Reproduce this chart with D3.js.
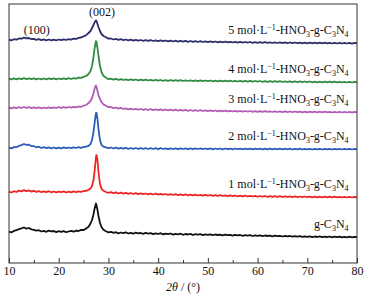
<!doctype html>
<html lang="en">
<head>
  <meta charset="utf-8">
  <title>XRD g-C3N4</title>
  <script src="https://cdn.jsdelivr.net/npm/d3@7"></script>
  <style>
    body { margin: 0; background: #fff; }
    svg text { font-family: "Liberation Serif", "Times New Roman", serif; fill: #111; }
  </style>
</head>
<body>
<svg id="chart"></svg>
<script>
// 2theta sampling (deg), denser around the (002) peak
var twoTheta = [
  10,10.5,11,11.5,12,12.5,13,13.5,14,14.5,15,15.5,16,16.5,17,17.5,
  18,18.5,19,19.5,20,20.5,21,21.5,22,22.5,23,23.5,24,24.5,25,25.5,
  26,26.4,26.7,27.0,27.2,27.4,27.5,27.6,27.8,28.0,28.3,28.6,29,
  29.5,30,30.5,31,31.5,32,32.5,33,33.5,34,34.5,35,35.5,36,36.5,37,37.5,38,38.5,
  39,39.5,40,40.5,41,41.5,42,42.5,43,43.5,44,44.5,45,45.5,46,46.5,47,47.5,48,48.5,
  49,49.5,50,50.5,51,51.5,52,52.5,53,53.5,54,54.5,55,55.5,56,56.5,57,57.5,58,58.5,
  59,59.5,60,60.5,61,61.5,62,62.5,63,63.5,64,64.5,65,65.5,66,66.5,67,67.5,68,68.5,
  69,69.5,70,70.5,71,71.5,72,72.5,73,73.5,74,74.5,75,75.5,76,76.5,77,77.5,78,78.5,
  79,79.5,80
];

// intensities (a.u.) above each curve's stacking offset
var pure = [
  5.4,4.6,6.2,6.8,7.9,8.6,9.5,8.4,9.0,7.6,7.2,6.3,6.8,5.5,6.1,5.2,
  6.4,5.6,6.0,4.9,5.8,5.1,5.9,4.8,5.5,6.2,5.3,6.4,6.0,7.1,7.0,8.4,
  10.2,13.5,17.0,22.8,28.0,32.0,33.5,31.8,27.0,21.0,14.2,10.0,7.2,
  5.8,4.6,5.2,4.1,4.8,3.6,4.5,3.9,4.7,3.5,4.2,3.3,4.4,3.6,4.0,3.1,4.1,3.4,3.9,
  2.9,3.7,3.0,3.8,2.6,3.4,2.8,3.5,2.4,3.2,2.7,3.3,2.2,3.0,2.5,3.1,2.0,2.8,2.3,2.9,
  1.9,2.6,2.1,2.7,1.8,2.5,2.0,2.4,1.6,2.3,1.8,2.2,1.4,2.1,1.6,2.0,1.2,1.9,1.4,1.8,
  1.0,1.7,1.2,1.6,0.9,1.5,1.0,1.4,0.7,1.3,0.8,1.2,0.5,1.1,0.6,1.0,0.3,0.9,0.4,0.8,
  0.1,0.7,0.2,0.6,-0.1,0.5,0.0,0.6,-0.2,0.4,-0.1,0.5,-0.3,0.3,-0.2,0.4,-0.4,0.2,-0.3,0.3,
  -0.4,0.2,-0.2
];
var hno3_1 = [
  5.3,4.5,5.8,5.0,6.4,5.6,6.9,5.9,6.6,5.4,6.2,5.1,5.9,4.8,5.7,4.9,
  5.8,4.7,5.5,4.6,5.4,4.8,5.6,4.5,5.3,4.7,5.6,4.9,5.7,5.1,6.0,6.2,
  7.2,8.4,11.0,17.0,25.0,35.0,40.0,42.0,37.0,25.0,13.0,8.2,6.3,
  5.0,4.2,4.9,3.8,4.6,3.5,4.3,3.4,4.2,3.2,4.0,3.0,3.8,2.9,3.7,2.8,3.5,2.7,3.4,
  2.5,3.3,2.4,3.2,2.3,3.0,2.1,2.9,2.0,2.8,1.9,2.7,1.8,2.6,1.7,2.4,1.6,2.3,1.5,2.2,
  1.4,2.1,1.3,2.0,1.2,1.9,1.1,1.8,1.0,1.7,0.9,1.6,0.8,1.5,0.7,1.4,0.6,1.3,0.5,1.2,
  0.5,1.1,0.4,1.0,0.3,1.0,0.2,0.9,0.2,0.8,0.1,0.8,0.0,0.7,0.0,0.6,-0.1,0.6,-0.1,0.5,
  -0.2,0.5,-0.2,0.4,-0.3,0.4,-0.3,0.4,-0.3,0.3,-0.4,0.3,-0.4,0.3,-0.4,0.2,-0.5,0.2,-0.5,0.2,
  -0.5,0.1,-0.3
];
var hno3_2 = [
  1.4,0.6,1.9,1.8,3.2,3.9,5.0,4.1,4.3,3.0,2.8,1.7,2.3,1.0,1.8,0.8,
  1.7,0.7,1.5,0.6,1.4,0.7,1.6,0.8,1.5,0.9,1.7,1.0,1.8,1.2,2.0,2.3,
  3.2,5.0,9.0,17.0,25.0,33.0,36.0,36.0,30.0,20.0,9.0,4.2,2.3,
  1.6,0.8,1.5,0.5,1.3,0.4,1.2,0.3,1.1,0.2,1.0,0.2,1.0,0.1,0.9,0.1,0.9,0.0,0.8,
  0.0,0.8,-0.1,0.8,0.0,0.7,-0.1,0.7,0.0,0.7,-0.2,0.6,0.0,0.7,-0.1,0.6,-0.2,0.6,0.0,0.6,
  -0.2,0.5,-0.1,0.6,-0.3,0.5,-0.1,0.5,-0.3,0.5,-0.2,0.4,-0.3,0.5,-0.2,0.4,-0.3,0.4,-0.2,0.4,
  -0.4,0.4,-0.2,0.3,-0.4,0.4,-0.3,0.3,-0.4,0.3,-0.3,0.3,-0.4,0.3,-0.3,0.3,-0.5,0.2,-0.3,0.3,
  -0.5,0.2,-0.4,0.2,-0.5,0.2,-0.4,0.2,-0.5,0.2,-0.4,0.1,-0.5,0.2,-0.4,0.1,-0.5,0.1,-0.4,0.1,
  -0.5,0.1,-0.3
];
var hno3_3 = [
  4.4,3.6,4.6,3.8,4.9,4.0,5.0,4.1,4.8,3.9,4.7,3.8,4.6,3.7,4.5,3.8,
  4.6,3.9,4.7,4.0,4.8,4.1,4.9,4.2,5.0,4.3,5.2,4.6,5.5,5.2,6.3,7.0,
  9.0,11.0,14.0,19.0,23.0,26.0,26.5,25.0,21.0,17.0,13.0,10.0,7.6,
  6.2,4.8,5.0,3.9,4.5,3.4,4.1,3.0,3.7,2.7,3.4,2.5,3.2,2.3,3.0,2.1,2.9,2.0,2.8,
  1.9,2.7,1.8,2.6,1.7,2.5,1.6,2.4,1.5,2.3,1.4,2.2,1.3,2.1,1.2,2.0,1.1,1.9,1.0,1.8,
  1.0,1.7,0.9,1.6,0.8,1.5,0.7,1.4,0.6,1.3,0.6,1.2,0.5,1.2,0.4,1.1,0.4,1.0,0.3,1.0,
  0.2,0.9,0.2,0.8,0.1,0.8,0.1,0.7,0.0,0.7,0.0,0.6,-0.1,0.6,-0.1,0.5,-0.2,0.5,-0.2,0.4,
  -0.3,0.4,-0.3,0.4,-0.3,0.3,-0.4,0.3,-0.4,0.3,-0.4,0.2,-0.5,0.2,-0.5,0.2,-0.5,0.1,-0.5,0.1,
  -0.6,0.1,-0.3
];
var hno3_4 = [
  3.4,2.6,3.6,2.7,3.7,2.8,3.8,2.9,3.7,2.8,3.6,2.7,3.5,2.6,3.5,2.7,
  3.6,2.8,3.6,2.7,3.5,2.8,3.7,2.9,3.8,3.0,3.9,3.4,4.3,4.2,5.2,6.0,
  8.0,11.0,16.0,25.0,33.0,39.0,41.0,40.0,34.0,26.0,16.0,10.0,6.2,
  4.3,2.9,3.4,2.4,3.1,2.2,2.9,2.0,2.7,1.9,2.6,1.8,2.5,1.7,2.4,1.6,2.3,1.5,2.2,
  1.4,2.1,1.3,2.0,1.2,1.9,1.2,1.9,1.1,1.8,1.1,1.8,1.0,1.7,1.0,1.7,0.9,1.6,0.9,1.6,
  0.8,1.5,0.8,1.5,0.7,1.4,0.7,1.4,0.6,1.3,0.6,1.3,0.5,1.2,0.5,1.2,0.4,1.1,0.4,1.1,
  0.3,1.0,0.3,1.0,0.2,0.9,0.2,0.9,0.1,0.8,0.1,0.8,0.0,0.7,0.0,0.7,-0.1,0.6,-0.1,0.6,
  -0.2,0.5,-0.2,0.5,-0.3,0.4,-0.3,0.4,-0.3,0.3,-0.4,0.3,-0.4,0.3,-0.4,0.2,-0.5,0.2,-0.5,0.2,
  -0.5,0.1,-0.3
];
var hno3_5 = [
  3.3,2.6,3.8,3.4,4.5,4.3,5.4,4.6,5.0,3.9,4.2,3.2,3.8,2.8,3.6,2.7,
  3.5,2.6,3.4,2.7,3.5,2.8,3.7,3.0,3.9,3.4,4.4,4.2,5.2,5.5,6.6,7.8,
  10.0,12.0,15.0,18.0,20.5,22.0,22.5,22.0,19.0,16.0,12.0,9.0,7.0,
  5.8,4.4,4.5,3.5,4.1,3.2,3.8,2.9,3.5,2.6,3.3,2.4,3.1,2.3,3.0,2.2,2.9,2.1,2.8,
  2.0,2.7,1.9,2.6,1.8,2.5,1.6,2.4,1.5,2.3,1.4,2.2,1.3,2.1,1.2,2.0,1.1,1.9,1.0,1.8,
  1.0,1.7,0.9,1.6,0.8,1.5,0.7,1.4,0.6,1.3,0.6,1.2,0.5,1.2,0.4,1.1,0.4,1.0,0.3,1.0,
  0.2,0.9,0.2,0.8,0.1,0.8,0.1,0.7,0.0,0.7,0.0,0.6,-0.1,0.6,-0.1,0.5,-0.2,0.5,-0.2,0.4,
  -0.3,0.4,-0.3,0.4,-0.3,0.3,-0.4,0.3,-0.4,0.3,-0.4,0.2,-0.5,0.2,-0.5,0.2,-0.5,0.1,-0.5,0.1,
  -0.6,0.1,-0.3
];

// bottom to top
var seriesValues = [pure, hno3_1, hno3_2, hno3_3, hno3_4, hno3_5];
var seriesOffsets = [26, 66, 114, 151, 181, 220];
var seriesColors = ["#111111", "#ee2424", "#2c5dbb", "#b25cb6", "#2f8c40", "#2f2e6c"];
var seriesConc = ["", "1", "2", "3", "4", "5"];

var xTicks = [10, 20, 30, 40, 50, 60, 70, 80];
var xMinorTicks = [15, 25, 35, 45, 55, 65, 75];
var peakLabels = [{ text: "(100)", x: 15.6, y: 229 }, { text: "(002)", x: 28.7, y: 247 }];

var W = 370, H = 300;
var margin = { top: 4, right: 13, bottom: 37, left: 9 };

var svg = d3.select("#chart").attr("width", W).attr("height", H);

var x = d3.scaleLinear().domain([10, 80]).range([margin.left, W - margin.right]);
var y = d3.scaleLinear().domain([0, H - margin.top - margin.bottom]).range([H - margin.bottom, margin.top]);

var line = d3.line()
  .x(function(d) { return x(d[0]); })
  .y(function(d) { return y(d[1]); });

seriesValues.forEach(function(vals, i) {
  if (vals.length !== twoTheta.length) console.warn("length mismatch", i, vals.length);
  var pts = twoTheta.map(function(t, j) { return [t, vals[j] + seriesOffsets[i]]; });
  svg.append("path")
    .datum(pts)
    .attr("d", line)
    .attr("fill", "none")
    .attr("stroke", seriesColors[i])
    .attr("stroke-width", 1.8)
    .attr("stroke-linejoin", "round");
});

// frame
svg.append("rect")
  .attr("x", x(10)).attr("y", margin.top)
  .attr("width", x(80) - x(10)).attr("height", H - margin.top - margin.bottom)
  .attr("fill", "none").attr("stroke", "#333").attr("stroke-width", 1);

// x axis, ticks pointing inwards
var gx = svg.append("g").attr("transform", "translate(0," + (H - margin.bottom) + ")");
gx.call(d3.axisBottom(x).tickValues(xTicks).tickSize(-5).tickPadding(3).tickFormat(d3.format("d")));
gx.select(".domain").remove();
gx.selectAll(".tick line").attr("stroke", "#333");
gx.selectAll(".tick text").attr("font-size", 12).attr("font-family", "Liberation Serif").attr("fill", "#111");

var gm = svg.append("g").attr("transform", "translate(0," + (H - margin.bottom) + ")");
gm.call(d3.axisBottom(x).tickValues(xMinorTicks).tickSize(-3).tickFormat(""));
gm.select(".domain").remove();
gm.selectAll(".tick line").attr("stroke", "#333");

// axis title
var title = svg.append("text")
  .attr("x", (x(10) + x(80)) / 2)
  .attr("y", H - 9)
  .attr("text-anchor", "middle")
  .attr("font-size", 12);
title.append("tspan").attr("font-style", "italic").text("2θ");
title.append("tspan").text(" / (°)");

// curve labels
seriesOffsets.forEach(function(off, i) {
  var t = svg.append("text")
    .attr("x", x(78.3))
    .attr("y", y(off + 9))
    .attr("text-anchor", "end")
    .attr("font-size", 12);
  if (seriesConc[i]) {
    t.append("tspan").text(seriesConc[i] + " mol·L");
    t.append("tspan").attr("font-size", 8).attr("dy", -4).text("−1");
    t.append("tspan").attr("dy", 4).text("-HNO");
    t.append("tspan").attr("font-size", 8).attr("dy", 3).text("3");
    t.append("tspan").attr("dy", -3).text("-g-C");
  } else {
    t.append("tspan").text("g-C");
  }
  t.append("tspan").attr("font-size", 8).attr("dy", 3).text("3");
  t.append("tspan").attr("dy", -3).text("N");
  t.append("tspan").attr("font-size", 8).attr("dy", 3).text("4");
});

// peak indices
svg.selectAll(".peak")
  .data(peakLabels)
  .enter().append("text")
  .attr("class", "peak")
  .attr("x", function(d) { return x(d.x); })
  .attr("y", function(d) { return y(d.y); })
  .attr("text-anchor", "middle")
  .attr("font-size", 12)
  .text(function(d) { return d.text; });
</script>
</body>
</html>
